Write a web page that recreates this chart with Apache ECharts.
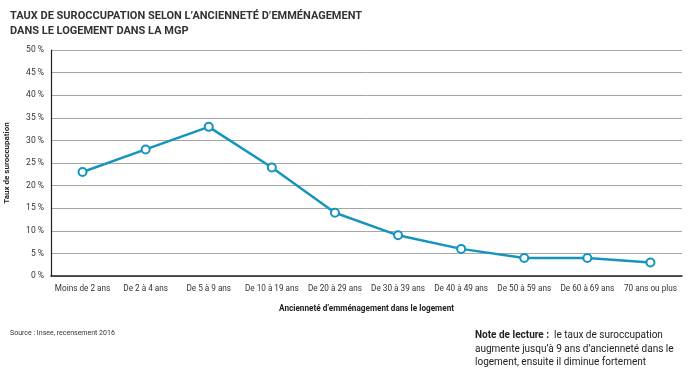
<!DOCTYPE html>
<html>
<head>
<meta charset="utf-8">
<script src="https://cdn.jsdelivr.net/npm/echarts@6/dist/echarts.min.js"></script>
<style>
  body { margin: 0; background: #fff; }
  #chart { width: 695px; height: 375px; }
</style>
</head>
<body>
<div id="chart"></div>
<script>
const categories = [
  "Moins de 2 ans", "De 2 à 4 ans", "De 5 à 9 ans", "De 10 à 19 ans", "De 20 à 29 ans",
  "De 30 à 39 ans", "De 40 à 49 ans", "De 50 à 59 ans", "De 60 à 69 ans", "70 ans ou plus"
];
const tauxSuroccupation = [23, 28, 33, 24, 14, 9, 6, 4, 4, 3];

const font = "Roboto, sans-serif";
const chart = echarts.init(document.getElementById("chart"));

chart.setOption({
  animation: false,
  textStyle: { fontFamily: font },
  title: [
    {
      text: "TAUX DE SUROCCUPATION SELON L’ANCIENNETÉ D’EMMÉNAGEMENT\nDANS LE LOGEMENT DANS LA MGP",
      left: 5, top: 4,
      textStyle: { fontFamily: font, fontSize: 11, fontWeight: "bold", color: "#333", lineHeight: 15 }
    },
    {
      text: "Source : Insee, recensement 2016",
      left: 5, top: 325,
      textStyle: { fontFamily: font, fontSize: 7, fontWeight: "normal", color: "#333" }
    },
    {
      text: "{b|Note de lecture :}  le taux de suroccupation\naugmente jusqu’à 9 ans d’ancienneté dans le\nlogement, ensuite il diminue fortement",
      left: 470, top: 324,
      textStyle: {
        fontFamily: font, fontSize: 10, fontWeight: "normal", color: "#222", lineHeight: 13.5,
        rich: { b: { fontFamily: font, fontSize: 10, fontWeight: "bold", color: "#222" } }
      }
    }
  ],
  grid: { left: 51, right: 13, top: 50, bottom: 99, containLabel: false, outerBoundsMode: "none" },
  xAxis: {
    type: "category",
    data: categories,
    boundaryGap: true,
    name: "Ancienneté d’emménagement dans le logement",
    nameLocation: "middle",
    nameGap: 29,
    nameTextStyle: { fontFamily: font, fontSize: 8.2, fontWeight: "bold", color: "#222" },
    axisLine: { lineStyle: { color: "#222", width: 1.5 } },
    axisTick: { show: false },
    axisLabel: { fontFamily: font, fontSize: 8.2, color: "#333", margin: 9, interval: 0 }
  },
  yAxis: {
    type: "value",
    min: 0, max: 50, interval: 5,
    name: "Taux de suroccupation",
    nameLocation: "middle",
    nameGap: 40,
    nameTextStyle: { fontFamily: font, fontSize: 8, fontWeight: "bold", color: "#222" },
    axisLine: { show: true, lineStyle: { color: "#222", width: 1.2 } },
    axisTick: { show: false },
    axisLabel: { fontFamily: font, fontSize: 8.5, color: "#333", margin: 7, formatter: v => v + " %" },
    splitLine: { lineStyle: { color: "#a6a6a6", width: 1 } }
  },
  series: [{
    type: "line",
    data: tauxSuroccupation,
    symbol: "emptyCircle",
    symbolSize: 8,
    lineStyle: { color: "#1595bd", width: 2.5 },
    itemStyle: { color: "#1595bd", borderColor: "#1595bd", borderWidth: 2.5 }
  }]
});
</script>
</body>
</html>
